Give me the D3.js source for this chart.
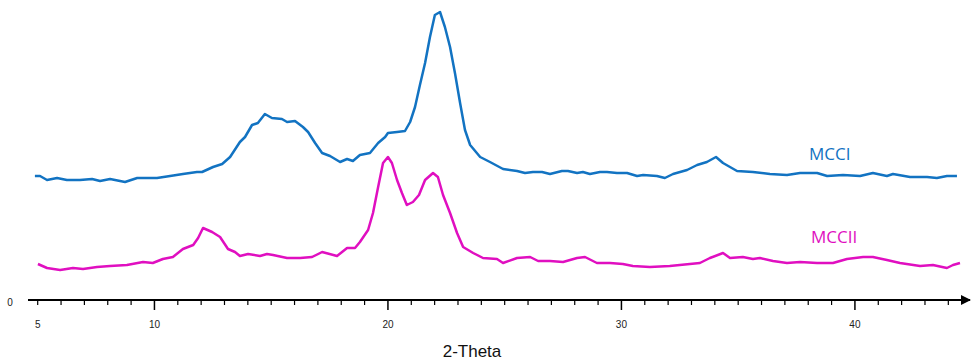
<!DOCTYPE html>
<html>
<head>
<meta charset="utf-8">
<script src="https://cdn.jsdelivr.net/npm/d3@7"></script>
<style>
  body { margin: 0; background: #fff; }
  svg { display: block; font-family: "Liberation Sans", Arial, sans-serif; }
</style>
</head>
<body>
<svg id="chart" width="973" height="362"></svg>
<script>
// 2-theta positions and intensities
const mcciTheta = [4.88, 5.10, 5.40, 5.83, 6.25, 6.81, 7.33, 7.67, 8.10, 8.74, 9.26, 9.69, 10.11, 10.67, 11.22, 11.82, 12.04, 12.51, 12.90, 13.24, 13.66, 13.88, 14.18, 14.43, 14.73, 15.03, 15.46, 15.68, 16.02, 16.36, 16.58, 16.88, 17.18, 17.52, 17.95, 18.25, 18.50, 18.80, 19.23, 19.58, 19.88, 20.00, 20.39, 20.73, 20.95, 21.16, 21.37, 21.59, 21.80, 22.01, 22.23, 22.44, 22.66, 22.87, 23.09, 23.30, 23.52, 23.95, 24.37, 24.93, 25.53, 25.87, 26.21, 26.60, 26.94, 27.45, 27.71, 28.10, 28.35, 28.65, 29.08, 29.38, 29.81, 30.24, 30.67, 30.93, 31.52, 31.86, 32.21, 32.81, 33.24, 33.66, 34.05, 34.35, 34.65, 34.95, 35.63, 36.36, 37.09, 37.65, 38.38, 38.81, 39.49, 40.22, 40.77, 41.37, 41.63, 42.36, 43.09, 43.51, 43.94, 44.37]
const mcciCounts = [124, 124, 120, 122, 120, 120, 121, 119, 121, 118, 122, 122, 122, 124, 126, 128, 128, 133, 136, 143, 158, 163, 175, 177, 186, 182, 181, 178, 179, 173, 168, 157, 147, 144, 138, 141, 139, 145, 147, 157, 163, 167, 168, 169, 178, 193, 215, 237, 263, 285, 288, 273, 253, 227, 197, 170, 155, 143, 138, 131, 129, 127, 128, 128, 126, 129, 129, 127, 128, 126, 128, 128, 127, 127, 124, 125, 124, 122, 126, 130, 135, 138, 143, 137, 133, 129, 128, 126, 125, 127, 127, 124, 125, 124, 127, 124, 126, 123, 123, 122, 124, 124]

const mcciiTheta = [5.01, 5.40, 5.96, 6.51, 6.94, 7.54, 8.10, 8.82, 9.51, 9.93, 10.36, 10.79, 11.22, 11.66, 11.87, 12.08, 12.47, 12.81, 13.15, 13.45, 13.66, 14.01, 14.52, 14.82, 15.08, 15.68, 16.24, 16.75, 17.18, 17.82, 18.25, 18.59, 18.80, 19.15, 19.36, 19.58, 19.79, 20.00, 20.17, 20.39, 20.60, 20.81, 21.07, 21.33, 21.59, 21.93, 22.14, 22.36, 22.66, 22.96, 23.22, 23.65, 24.07, 24.67, 24.93, 25.53, 26.09, 26.43, 26.94, 27.50, 28.10, 28.44, 28.95, 29.51, 30.06, 30.49, 31.22, 32.07, 32.93, 33.36, 33.79, 34.35, 34.65, 35.20, 35.63, 35.93, 36.49, 37.09, 37.65, 38.38, 39.06, 39.66, 40.35, 40.77, 41.37, 41.93, 42.79, 43.34, 43.94, 44.20, 44.50]
const mcciiCounts = [36, 32, 30, 32, 31, 33, 34, 35, 38, 37, 41, 43, 51, 55, 62, 72, 68, 63, 51, 48, 44, 46, 44, 46, 45, 42, 42, 43, 48, 44, 52, 52, 58, 70, 87, 113, 137, 143, 137, 120, 107, 95, 98, 105, 120, 127, 123, 105, 87, 67, 53, 47, 42, 41, 37, 42, 43, 39, 39, 38, 42, 43, 37, 37, 36, 34, 33, 34, 36, 37, 42, 47, 42, 43, 41, 42, 39, 37, 38, 37, 37, 41, 43, 43, 40, 37, 34, 35, 32, 35, 37]

const majorTicks = [5, 10, 20, 30, 40]

const svg = d3.select("#chart")

const x = d3.scaleLinear().domain([5, 44.8]).range([37.7, 967])
const y = d3.scaleLinear().domain([0, 300]).range([300, 0])

const line = d3.line()
  .x(d => x(d[0]))
  .y(d => y(d[1]))

// Axis line with arrow head
svg.append("defs").append("marker")
  .attr("id", "arrow")
  .attr("viewBox", "0 0 10 10")
  .attr("refX", 9).attr("refY", 5)
  .attr("markerWidth", 5).attr("markerHeight", 5)
  .attr("orient", "auto")
  .append("path")
  .attr("d", "M0,0 L10,5 L0,10 z")
  .attr("fill", "#000")

svg.append("line")
  .attr("x1", 28).attr("x2", 970)
  .attr("y1", y(0)).attr("y2", y(0))
  .attr("stroke", "#000")
  .attr("stroke-width", 2)
  .attr("marker-end", "url(#arrow)")

// minor ticks every degree, longer at the decades
const minor = d3.range(5, 45, 1)
svg.append("g").selectAll("line")
  .data(minor)
  .join("line")
  .attr("x1", d => x(d)).attr("x2", d => x(d))
  .attr("y1", y(0))
  .attr("y2", d => y(0) + (d % 10 === 0 ? 10 : 5))
  .attr("stroke", "#000")
  .attr("stroke-width", d => d % 10 === 0 ? 1.5 : 1.2)

svg.append("g").selectAll("text")
  .data(majorTicks)
  .join("text")
  .attr("x", d => x(d))
  .attr("y", 328)
  .attr("text-anchor", "middle")
  .attr("font-size", 10)
  .attr("fill", "#222")
  .text(d => d)

svg.append("text")
  .attr("x", 10).attr("y", 306)
  .attr("text-anchor", "middle")
  .attr("font-size", 10)
  .attr("fill", "#222")
  .text("0")

svg.append("text")
  .attr("x", 472).attr("y", 357)
  .attr("text-anchor", "middle")
  .attr("font-size", 17)
  .attr("fill", "#111")
  .text("2-Theta")

// Patterns
const blue = "#1273c2"
const magenta = "#e00fc0"

svg.append("path")
  .datum(d3.zip(mcciTheta, mcciCounts))
  .attr("d", line)
  .attr("fill", "none")
  .attr("stroke", blue)
  .attr("stroke-width", 2.5)
  .attr("stroke-linejoin", "round")

svg.append("path")
  .datum(d3.zip(mcciiTheta, mcciiCounts))
  .attr("d", line)
  .attr("fill", "none")
  .attr("stroke", magenta)
  .attr("stroke-width", 2.5)
  .attr("stroke-linejoin", "round")

svg.append("text")
  .attr("x", 809).attr("y", 160)
  .attr("font-size", 17)
  .attr("font-family", "'Open Sans', sans-serif")
  .attr("fill", blue)
  .text("MCCI")

svg.append("text")
  .attr("x", 811).attr("y", 243)
  .attr("font-size", 17)
  .attr("font-family", "'Open Sans', sans-serif")
  .attr("fill", magenta)
  .text("MCCII")
</script>
</body>
</html>
